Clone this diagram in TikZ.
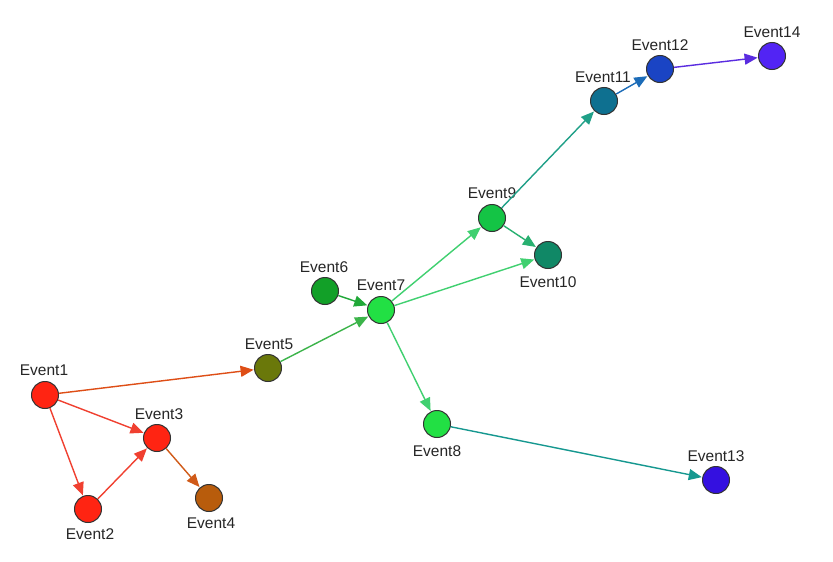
\documentclass[tikz,border=0pt]{standalone}
\usepackage{fontspec}
\setmainfont{Liberation Sans}
\usetikzlibrary{arrows.meta}
\definecolor{cR}{HTML}{FF2412}
\definecolor{cBrown}{HTML}{B85C0C}
\definecolor{cOlive}{HTML}{6A780A}
\definecolor{cDG}{HTML}{12A028}
\definecolor{cLG}{HTML}{22E044}
\definecolor{cG9}{HTML}{14C445}
\definecolor{cTeal}{HTML}{108866}
\definecolor{cE11}{HTML}{0E7090}
\definecolor{cE12}{HTML}{1A44C4}
\definecolor{cE13}{HTML}{3410E0}
\definecolor{cE14}{HTML}{5224F4}
\definecolor{eRed}{HTML}{F04030}
\definecolor{eOr}{HTML}{DE4E16}
\definecolor{eOr2}{HTML}{D05A18}
\definecolor{eG5}{HTML}{3CB44A}
\definecolor{eG6}{HTML}{20A838}
\definecolor{eG7}{HTML}{40D070}
\definecolor{eG9}{HTML}{28B070}
\definecolor{eT}{HTML}{20A088}
\definecolor{eT8}{HTML}{169890}
\definecolor{eB}{HTML}{1C6CB8}
\definecolor{eV}{HTML}{5A2CE0}
\begin{document}
\begin{tikzpicture}[x=1pt,y=-1pt,
  ev/.style={circle,draw=black!80,line width=1pt,minimum size=27pt,inner sep=0pt},
  lab/.style={font=\fontsize{15.5}{17}\selectfont,text=black!85,inner sep=0pt},
  edge/.style={line width=1.4pt,-{Triangle[length=13pt,width=11pt]},shorten >=0.5pt}]
\useasboundingbox (0,0) rectangle (833,562);
\fill[white] (0,0) rectangle (833,562);
% nodes
\node[ev,fill=cR] (e1) at (45,395) {};
\node[ev,fill=cR] (e2) at (88,509) {};
\node[ev,fill=cR] (e3) at (157,438) {};
\node[ev,fill=cBrown] (e4) at (209,498) {};
\node[ev,fill=cOlive] (e5) at (268,368) {};
\node[ev,fill=cDG] (e6) at (325,291) {};
\node[ev,fill=cLG] (e7) at (381,310) {};
\node[ev,fill=cLG] (e8) at (437,424) {};
\node[ev,fill=cG9] (e9) at (492,218) {};
\node[ev,fill=cTeal] (e10) at (548,255) {};
\node[ev,fill=cE11] (e11) at (604,101) {};
\node[ev,fill=cE12] (e12) at (660,69) {};
\node[ev,fill=cE13] (e13) at (716,480) {};
\node[ev,fill=cE14] (e14) at (772,56) {};
% labels
\node[lab] (l1) at (44,370) {Event1};
\node[lab] (l2) at (90,534) {Event2};
\node[lab] (l3) at (159,414) {Event3};
\node[lab] (l4) at (211,523) {Event4};
\node[lab] (l5) at (269,344) {Event5};
\node[lab] (l6) at (324,267) {Event6};
\node[lab] (l7) at (381,285) {Event7};
\node[lab] (l8) at (437,451) {Event8};
\node[lab] (l9) at (492,193) {Event9};
\node[lab] (l10) at (548,282) {Event10};
\node[lab] (l11) at (603,77) {Event11};
\node[lab] (l12) at (660,45) {Event12};
\node[lab] (l13) at (716,456) {Event13};
\node[lab] (l14) at (772,32) {Event14};
% edges
\draw[edge,eOr] (e1) -- (e5);
\draw[edge,eRed] (e1) -- (e3);
\draw[edge,eRed] (e1) -- (e2);
\draw[edge,eRed] (e2) -- (e3);
\draw[edge,eOr2] (e3) -- (e4);
\draw[edge,eG5] (e5) -- (e7);
\draw[edge,eG6] (e6) -- (e7);
\draw[edge,eG7] (e7) -- (e9);
\draw[edge,eG7] (e7) -- (e10);
\draw[edge,eG7] (e7) -- (e8);
\draw[edge,eG9] (e9) -- (e10);
\draw[edge,eT] (e9) -- (e11);
\draw[edge,eB] (e11) -- (e12);
\draw[edge,eV] (e12) -- (e14);
\draw[edge,eT8] (e8) -- (e13);
\end{tikzpicture}
\end{document}
